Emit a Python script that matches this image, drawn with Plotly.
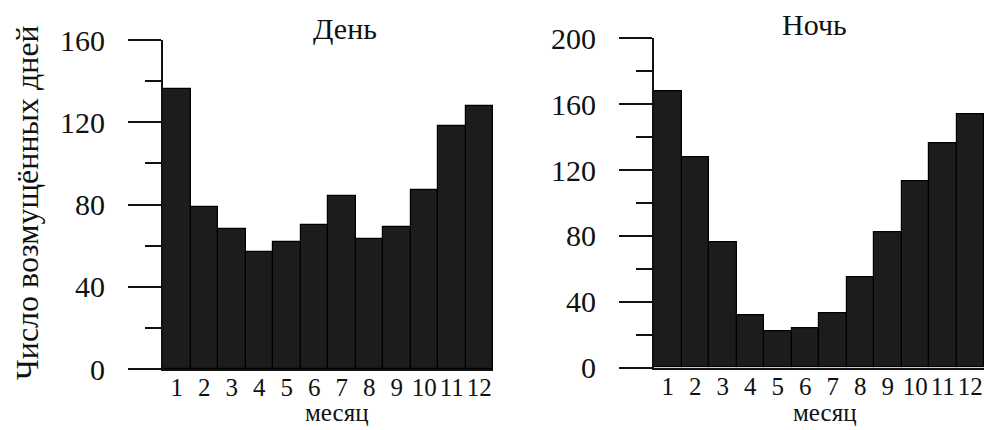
import plotly.graph_objects as go

months = [1, 2, 3, 4, 5, 6, 7, 8, 9, 10, 11, 12]
month_labels = ["1", "2", "3", "4", "5", "6", "7", "8", "9", "10", "11", "12"]
day_values = [136, 79, 68, 57, 62, 70, 84, 63, 69, 87, 118, 128]
night_values = [168, 128, 76, 32, 22, 24, 33, 55, 82, 113, 136, 154]

W, H = 997, 430
FONT = "Liberation Serif, Times New Roman, serif"
BAR_COLOR = "#1c1c1c"
INK = "#111111"

fig = go.Figure()
fig.add_trace(go.Bar(x=months, y=day_values, xaxis="x", yaxis="y",
                     marker=dict(color=BAR_COLOR, line=dict(color="#000000", width=1.2)),
                     showlegend=False))
fig.add_trace(go.Bar(x=months, y=night_values, xaxis="x2", yaxis="y2",
                     marker=dict(color=BAR_COLOR, line=dict(color="#000000", width=1.2)),
                     showlegend=False))

def xaxis_cfg(domain, anchor):
    return dict(domain=domain, anchor=anchor, range=[0.5, 12.5],
                tickmode="array", tickvals=months, ticktext=month_labels,
                showline=True, linecolor=INK, linewidth=2, ticks="",
                showgrid=False, zeroline=False, automargin=False,
                ticklabelstandoff=-5,
                tickfont=dict(family=FONT, size=25, color=INK))

def yaxis_cfg(domain, anchor, top, minor):
    return dict(domain=domain, anchor=anchor, range=[0, top],
                tickmode="linear", tick0=0, dtick=40,
                showline=True, linecolor=INK, linewidth=2,
                ticks="outside", ticklen=33, tickwidth=2, tickcolor=INK,
                minor=dict(ticks="outside", ticklen=16, tickwidth=2,
                           tickcolor=INK, dtick=minor, tick0=0, showgrid=False),
                showgrid=False, zeroline=False, automargin=False,
                ticklabelstandoff=17,
                tickfont=dict(family=FONT, size=30, color=INK))

fig.update_layout(
    width=W, height=H,
    margin=dict(l=0, r=0, t=0, b=0),
    paper_bgcolor="white", plot_bgcolor="white",
    bargap=0,
    xaxis=xaxis_cfg([163 / W, 493 / W], "y"),
    yaxis=yaxis_cfg([(H - 369) / H, (H - 40) / H], "x", 160, 20),
    xaxis2=xaxis_cfg([654 / W, 984 / W], "y2"),
    yaxis2=yaxis_cfg([(H - 367.7) / H, (H - 38.3) / H], "x2", 200, 20),
    annotations=[
        dict(text="День", x=345 / W, y=(H - 28) / H, xref="paper", yref="paper",
             showarrow=False, xanchor="center", yanchor="middle",
             font=dict(family=FONT, size=30, color=INK)),
        dict(text="Ночь", x=814 / W, y=(H - 24) / H, xref="paper", yref="paper",
             showarrow=False, xanchor="center", yanchor="middle",
             font=dict(family=FONT, size=30, color=INK)),
        dict(text="месяц", x=337 / W, y=(H - 412) / H, xref="paper", yref="paper",
             showarrow=False, xanchor="center", yanchor="middle",
             font=dict(family=FONT, size=25, color=INK)),
        dict(text="месяц", x=825 / W, y=(H - 412) / H, xref="paper", yref="paper",
             showarrow=False, xanchor="center", yanchor="middle",
             font=dict(family=FONT, size=25, color=INK)),
        dict(text="Число возмущённых дней", x=27 / W, y=(H - 203) / H,
             xref="paper", yref="paper", textangle=-90,
             showarrow=False, xanchor="center", yanchor="middle",
             font=dict(family=FONT, size=32, color=INK)),
    ],
)

fig.write_html("out.html")
